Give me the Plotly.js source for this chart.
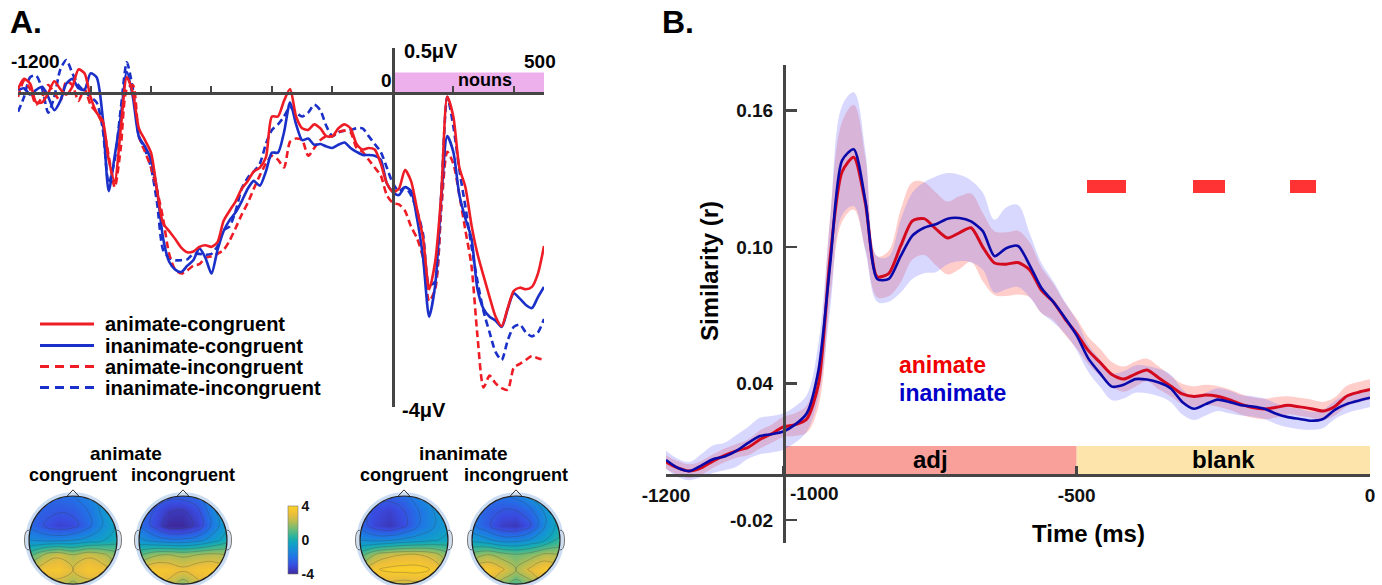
<!DOCTYPE html>
<html><head><meta charset="utf-8">
<script src="https://cdn.plot.ly/plotly-3.0.1.min.js"></script>
<style>html,body{margin:0;padding:0;background:#fff}#chart{width:1382px;height:585px}</style>
</head><body><div id="chart"></div>
<script>
// ---------------- Panel A: ERP waveforms (µV) ----------------
const tA = [-1240,-1220,-1200,-1180,-1160,-1140,-1120,-1100,-1080,-1060,-1040,-1020,-1000,-980,-960,-940,-920,-900,-880,-860,-840,-820,-800,-780,-760,-740,-720,-700,-680,-660,-640,-620,-600,-580,-560,-540,-520,-500,-480,-460,-440,-420,-400,-380,-360,-340,-320,-300,-280,-260,-240,-220,-200,-180,-160,-140,-120,-100,-80,-60,-40,-20,0,20,40,60,80,100,120,140,160,180,200,220,240,260,280,300,320,340,360,380,400,420,440,460,480,500];
const animCong = [0.05,0.18,0.12,-0.12,-0.12,0.0,0.15,0.05,-0.02,0.08,0.3,0.25,-0.05,-0.25,-0.35,-0.85,-1.12,-0.45,0.2,0.0,-0.45,-0.6,-0.76,-1.24,-1.66,-1.76,-1.86,-1.97,-2.03,-2.02,-1.96,-1.94,-1.96,-1.9,-1.63,-1.5,-1.38,-1.22,-1.12,-1.0,-0.95,-0.82,-0.3,-0.3,-0.1,0.05,-0.3,-0.45,-0.47,-0.4,-0.45,-0.55,-0.55,-0.45,-0.4,-0.45,-0.65,-0.72,-0.7,-0.72,-0.9,-1.15,-1.26,-1.22,-0.98,-1.12,-1.48,-1.85,-2.5,-2.15,-1.3,-0.05,-0.3,-0.95,-1.2,-1.68,-2.05,-2.33,-2.6,-2.85,-2.97,-2.74,-2.52,-2.48,-2.5,-2.47,-2.3,-1.95];
const inanimCong = [0.04,0.06,-0.02,0.04,0.08,-0.05,-0.22,-0.1,0.12,0.18,0.06,0.04,0.25,0.2,-0.3,-1.25,-0.8,-0.3,0.27,-0.05,-0.56,-0.68,-0.85,-1.24,-1.85,-2.15,-2.25,-2.28,-2.2,-2.13,-1.98,-2.1,-2.3,-2.0,-1.76,-1.62,-1.52,-1.38,-1.22,-1.12,-1.18,-1.0,-0.76,-0.76,-0.5,-0.12,-0.4,-0.6,-0.58,-0.66,-0.65,-0.68,-0.7,-0.66,-0.63,-0.7,-0.75,-0.79,-0.79,-0.8,-0.85,-1.15,-1.26,-1.3,-1.2,-1.25,-1.6,-2.1,-2.85,-2.45,-1.35,-0.55,-0.75,-1.3,-1.6,-1.85,-2.5,-2.75,-2.85,-2.9,-2.98,-2.75,-2.55,-2.62,-2.7,-2.74,-2.6,-2.47];
const animIncong = [-0.05,0.15,0.05,-0.15,-0.05,0.1,0.0,-0.1,0.15,0.1,-0.1,0.05,-0.15,-0.25,-0.4,-0.8,-1.2,-0.7,0.05,0.1,-0.55,-0.75,-0.95,-1.24,-1.6,-2.05,-2.25,-2.3,-2.26,-2.2,-2.18,-2.1,-2.08,-2.05,-2.0,-1.88,-1.72,-1.55,-1.4,-1.22,-1.05,-0.9,-0.8,-0.85,-0.95,-0.62,-0.58,-0.6,-0.8,-0.7,-0.6,-0.55,-0.55,-0.5,-0.48,-0.5,-0.7,-0.75,-0.85,-0.95,-1.05,-1.3,-1.4,-1.42,-1.5,-1.7,-1.85,-2.1,-2.65,-2.5,-1.5,-0.75,-0.9,-1.3,-1.75,-2.2,-3.1,-3.75,-3.6,-3.7,-3.76,-3.78,-3.5,-3.45,-3.4,-3.35,-3.38,-3.4];
const inanimIncong = [-0.24,-0.05,0.2,0.22,0.05,-0.25,-0.05,0.3,0.42,0.25,0.1,0.02,-0.05,-0.12,-0.45,-1.15,-0.85,-0.2,0.39,0.05,-0.55,-0.72,-0.95,-1.4,-2.0,-2.1,-2.13,-2.13,-2.12,-2.05,-2.05,-2.06,-2.05,-1.95,-1.75,-1.7,-1.5,-1.22,-1.08,-1.0,-0.9,-0.65,-0.47,-0.4,-0.3,-0.18,-0.25,-0.3,-0.25,-0.15,-0.22,-0.42,-0.55,-0.5,-0.48,-0.47,-0.45,-0.45,-0.55,-0.65,-0.75,-0.95,-1.15,-1.25,-1.2,-1.3,-1.5,-1.8,-2.45,-2.4,-1.3,-0.05,-0.42,-0.98,-1.45,-1.95,-2.4,-2.78,-3.05,-3.3,-3.4,-3.15,-2.98,-2.95,-3.05,-3.1,-3.05,-2.88];
const legendA = ['animate-congruent','inanimate-congruent','animate-incongruent','inanimate-incongruent'];

// ---------------- Panel B: similarity (r) ----------------
const tB = [-1200,-1180,-1160,-1140,-1120,-1100,-1080,-1060,-1040,-1020,-1000,-980,-960,-940,-920,-900,-880,-860,-840,-820,-800,-780,-760,-740,-720,-700,-680,-660,-640,-620,-600,-580,-560,-540,-520,-500,-480,-460,-440,-420,-400,-380,-360,-340,-320,-300,-280,-260,-240,-220,-200,-180,-160,-140,-120,-100,-80,-60,-40,-20,0];
const animateSim = [0.0056,0.003,0.0016,0.003,0.006,0.0085,0.0105,0.012,0.0155,0.018,0.021,0.022,0.0245,0.040,0.096,0.133,0.1395,0.119,0.087,0.0885,0.1005,0.1115,0.1125,0.108,0.104,0.1063,0.1085,0.100,0.093,0.0925,0.0932,0.090,0.081,0.076,0.0685,0.062,0.0545,0.0493,0.044,0.042,0.0442,0.046,0.0425,0.039,0.0355,0.0344,0.035,0.0345,0.033,0.031,0.0295,0.0289,0.0296,0.0305,0.0298,0.029,0.028,0.030,0.0345,0.0362,0.0374];
const inanimateSim = [0.0065,0.003,0.0016,0.004,0.0068,0.008,0.0105,0.014,0.017,0.0178,0.019,0.022,0.027,0.046,0.093,0.138,0.143,0.12,0.086,0.086,0.096,0.105,0.1085,0.110,0.1125,0.1128,0.1113,0.107,0.096,0.0995,0.1005,0.092,0.082,0.076,0.069,0.0612,0.051,0.0445,0.0387,0.0395,0.042,0.0418,0.0405,0.038,0.032,0.029,0.031,0.033,0.032,0.0305,0.030,0.029,0.0268,0.0253,0.0245,0.0237,0.0245,0.0285,0.031,0.0325,0.0338];
const animateSem = [0.003,0.003,0.003,0.003,0.003,0.003,0.003,0.0035,0.004,0.004,0.0045,0.005,0.006,0.010,0.018,0.022,0.023,0.020,0.009,0.010,0.016,0.017,0.016,0.016,0.016,0.016,0.015,0.015,0.014,0.014,0.014,0.012,0.010,0.008,0.007,0.0065,0.006,0.006,0.0055,0.0055,0.0055,0.005,0.005,0.0045,0.0045,0.0045,0.0045,0.0045,0.0045,0.0045,0.0045,0.0045,0.0045,0.004,0.004,0.004,0.004,0.004,0.0045,0.0045,0.0045];
const inanimateSem = [0.004,0.004,0.004,0.005,0.006,0.006,0.007,0.007,0.008,0.008,0.008,0.008,0.008,0.012,0.020,0.024,0.025,0.022,0.010,0.010,0.016,0.019,0.020,0.021,0.020,0.019,0.018,0.017,0.016,0.018,0.018,0.014,0.011,0.009,0.007,0.0065,0.006,0.006,0.006,0.006,0.006,0.006,0.006,0.006,0.0055,0.005,0.005,0.005,0.005,0.0045,0.0045,0.0045,0.0045,0.0045,0.0045,0.004,0.004,0.004,0.004,0.004,0.004];
const sigStart = [-483,-302,-136];
const sigEnd = [-416,-247,-92];
const sigLevel = 0.1267;
const epochs = ['adj','blank'];
const epochStart = [-1000,-500];
const epochEnd = [-500,0];

// ---------------- Topographies (µV), rows from back (-1) to front (+1) ----------------
const headGrid = [-1,-0.667,-0.333,0,0.333,0.667,1];
const topoAnimCong = [
 [1.5,2.2,2.4,1.8,2.4,2.3,1.5],
 [2.0,3.3,3.5,2.8,3.5,3.2,2.2],
 [0.8,2.0,2.6,2.0,2.6,2.2,1.5],
 [-1.2,-1.4,-1.4,-1.2,-0.9,-0.5,0.0],
 [-2.2,-2.8,-3.3,-3.1,-2.3,-1.2,-0.3],
 [-2.4,-2.5,-2.7,-2.6,-2.0,-1.0,0.0],
 [-2.3,-2.3,-2.2,-2.0,-1.6,-0.8,0.3]];
const topoAnimIncong = [
 [3.2,3.2,2.5,1.5,2.5,3.2,3.2],
 [2.8,3.5,3.4,3.0,3.4,3.5,3.0],
 [1.0,1.8,2.0,1.8,2.0,2.2,2.0],
 [-1.0,-1.5,-1.8,-1.8,-1.5,-0.8,0.0],
 [-2.0,-3.0,-4.0,-4.0,-3.4,-1.8,-0.5],
 [-2.2,-2.8,-3.5,-3.6,-3.0,-1.5,-0.2],
 [-2.0,-2.3,-2.5,-2.5,-2.2,-1.0,0.2]];
const topoInanimCong = [
 [1.5,2.6,2.6,2.4,2.6,2.4,1.5],
 [2.2,3.5,3.8,3.9,3.9,3.5,2.2],
 [0.8,2.0,2.6,2.8,2.8,2.4,1.5],
 [-1.2,-1.4,-1.3,-1.0,-0.8,-0.5,-0.2],
 [-2.3,-3.2,-3.6,-3.0,-2.0,-1.3,-0.6],
 [-2.5,-3.0,-3.3,-2.8,-2.0,-1.2,-0.5],
 [-2.3,-2.5,-2.5,-2.2,-1.5,-0.8,0.0]];
const topoInanimIncong = [
 [2.2,2.6,1.6,0.8,1.6,2.6,2.2],
 [2.8,3.6,3.0,2.0,3.0,3.6,2.8],
 [1.5,2.0,1.6,1.3,1.6,2.2,2.0],
 [-0.6,-1.0,-1.5,-1.5,-1.1,-0.4,0.5],
 [-1.8,-2.6,-3.4,-3.6,-2.8,-1.2,0.0],
 [-2.0,-2.5,-2.8,-2.8,-2.2,-1.0,0.3],
 [-1.8,-2.0,-2.0,-1.8,-1.0,-0.3,0.8]];
const topoTitlesGroup = ['animate','inanimate'];
const topoTitlesCond = ['congruent','incongruent','congruent','incongruent'];

// ---------------- drawing ----------------
const F = '"Liberation Sans", Arial, Helvetica, sans-serif';
const W = 1382, H = 585;
const px = x => x / W, py = y => 1 - y / H;
const RED_A = '#EE1C25', BLUE_A = '#1A30C8';
const RED_B = '#D40A1E', BLUE_B = '#0A0AAA';
const AX = '#454545';

const data = [];
const shapes = [];
const ann = [];

// Panel A traces
const seriesA = [
  {y: inanimIncong, color: BLUE_A, dash: '7px,4px', name: legendA[3]},
  {y: animIncong, color: RED_A, dash: '7px,4px', name: legendA[2]},
  {y: inanimCong, color: BLUE_A, dash: 'solid', name: legendA[1]},
  {y: animCong, color: RED_A, dash: 'solid', name: legendA[0]}
];
seriesA.forEach(s => data.push({x: tA, y: s.y, name: s.name, xaxis: 'x', yaxis: 'y', mode: 'lines',
  line: {color: s.color, width: 2.6, dash: s.dash, shape: 'spline', smoothing: 0.7}, hoverinfo: 'skip'}));

// Panel B bands and lines
const bands = [
  {m: animateSim, s: animateSem, fill: 'rgba(255,105,95,0.33)'},
  {m: inanimateSim, s: inanimateSem, fill: 'rgba(115,115,255,0.28)'}
];
bands.forEach(b => {
  data.push({x: tB, y: b.m.map((v, i) => v - b.s[i]), xaxis: 'x2', yaxis: 'y2', mode: 'lines',
    line: {width: 0, shape: 'spline'}, hoverinfo: 'skip'});
  data.push({x: tB, y: b.m.map((v, i) => v + b.s[i]), xaxis: 'x2', yaxis: 'y2', mode: 'lines',
    line: {width: 0, shape: 'spline'}, fill: 'tonexty', fillcolor: b.fill, hoverinfo: 'skip'});
});
data.push({x: tB, y: animateSim, xaxis: 'x2', yaxis: 'y2', mode: 'lines', name: 'animate',
  line: {color: RED_B, width: 3, shape: 'spline', smoothing: 0.7}, hoverinfo: 'skip'});
data.push({x: tB, y: inanimateSim, xaxis: 'x2', yaxis: 'y2', mode: 'lines', name: 'inanimate',
  line: {color: BLUE_B, width: 2.6, shape: 'spline', smoothing: 0.7}, hoverinfo: 'skip'});
data.push({type: 'bar', orientation: 'h', base: sigStart, x: sigEnd.map((e, i) => e - sigStart[i]),
  y: sigStart.map(() => sigLevel), width: 0.0058, marker: {color: '#FF3333', line: {width: 0}},
  xaxis: 'x2', yaxis: 'y2', hoverinfo: 'skip'});

// Topographies
const parula = [[0,'#3D2A9C'],[0.12,'#3A4BE0'],[0.25,'#2173E6'],[0.37,'#1592D6'],[0.47,'#10A6C0'],
  [0.55,'#2AB39E'],[0.65,'#66BB7C'],[0.76,'#B1BD55'],[0.88,'#EDBE3A'],[1,'#FCD225']];
const topos = [topoAnimCong, topoAnimIncong, topoInanimCong, topoInanimIncong];
const headCx = [73, 183, 404, 516];
const headR = 44;
const layout = {
  width: W, height: H, margin: {l: 0, r: 0, t: 0, b: 0}, paper_bgcolor: '#fff', plot_bgcolor: 'rgba(0,0,0,0)',
  showlegend: false, font: {family: F, color: '#000'},
  xaxis: {domain: [px(18), px(544)], range: [-1240, 500], anchor: 'free', position: py(93),
    showline: true, linecolor: AX, linewidth: 2.5, ticks: 'inside', ticklen: 6, tickwidth: 2, tickcolor: AX,
    tickvals: [-1000,-800,-600,-400,-200,200,400,499], showticklabels: false, showgrid: false, zeroline: false},
  yaxis: {domain: [py(407), py(48)], range: [-4, 0.573], anchor: 'free', position: px(393),
    showline: true, linecolor: AX, linewidth: 2.5, ticks: 'inside', ticklen: 6, tickwidth: 2, tickcolor: AX,
    tickvals: [-3.995, 0.568], showticklabels: false, showgrid: false, zeroline: false},
  xaxis2: {domain: [px(666), px(1370)], range: [-1200, 0], anchor: 'free', position: py(474.7),
    showline: true, linecolor: AX, linewidth: 3, ticks: 'inside', ticklen: 8, tickwidth: 2.5, tickcolor: AX,
    tickvals: [-1200,-1000,-500,0], ticktext: ['-1200','','-500','0'], ticklabelstandoff: 2,
    tickfont: {family: F, size: 19, color: '#111', weight: 'bold'}, showgrid: false, zeroline: false},
  yaxis2: {domain: [py(543), py(65)], range: [-0.03, 0.18], anchor: 'free', position: px(784), type: 'linear',
    showline: true, linecolor: AX, linewidth: 3, ticks: 'inside', ticklen: 11, tickwidth: 2.5, tickcolor: AX,
    tickvals: [-0.02, 0.04, 0.10, 0.16, 0.1798], ticktext: ['-0.02','0.04','0.10','0.16',''], ticklabelstandoff: 6,
    tickfont: {family: F, size: 19, color: '#111', weight: 'bold'}, showgrid: false, zeroline: false},
  coloraxis: {cmin: -4, cmax: 4, colorscale: parula,
    colorbar: {x: px(288), xanchor: 'left', y: py(574), yanchor: 'bottom', len: 68, lenmode: 'pixels',
      thickness: 10, thicknessmode: 'pixels', xpad: 0, ypad: 0, outlinewidth: 0.6, outlinecolor: '#777',
      tickvals: [-4, 0, 4], ticktext: ['-4','0','4'], ticks: '', ticklabelstandoff: 2,
      tickfont: {family: F, size: 14, color: '#111', weight: 'bold'}}},
  bargap: 0
};

const k = 0.5523;
const circlePath = r => `M ${r} 0 C ${r} ${-k*r} ${k*r} ${-r} 0 ${-r} C ${-k*r} ${-r} ${-r} ${-k*r} ${-r} 0 C ${-r} ${k*r} ${-k*r} ${r} 0 ${r} C ${k*r} ${r} ${r} ${k*r} ${r} 0 Z`;
const txt = (x, y, t, size, anchor, extra) => Object.assign({xref: 'paper', yref: 'paper', x: px(x), y: py(y), text: t,
  showarrow: false, xanchor: anchor || 'center', yanchor: 'middle', font: {family: F, size: size, color: '#000', weight: 'bold'}}, extra || {});

topos.forEach((z, i) => {
  const n = i + 3, xa = 'x' + n, ya = 'y' + n;
  layout['xaxis' + n] = {domain: [px(headCx[i] - 1.25 * headR), px(headCx[i] + 1.25 * headR)], range: [-1.25, 1.25],
    visible: false, anchor: ya, fixedrange: true};
  layout['yaxis' + n] = {domain: [0, py(485)], range: [-1.02, 1.25], visible: false, anchor: xa, fixedrange: true};
  data.push({type: 'heatmap', z: z, x: headGrid, y: headGrid, zsmooth: 'best', coloraxis: 'coloraxis',
    xaxis: xa, yaxis: ya, hoverinfo: 'skip'});
  data.push({type: 'contour', z: z, x: headGrid, y: headGrid, xaxis: xa, yaxis: ya, showscale: false,
    contours: {coloring: 'none', start: -3.6, end: 3.6, size: 0.8}, autocontour: false,
    line: {color: 'rgba(55,55,55,0.45)', width: 0.6, smoothing: 1.3}, hoverinfo: 'skip'});
  // white mask outside the scalp
  shapes.push({type: 'path', xref: xa, yref: ya,
    path: 'M -1.25 -1.02 L 1.25 -1.02 L 1.25 1.25 L -1.25 1.25 Z ' + circlePath(1.0),
    fillcolor: '#fff', line: {width: 0}, layer: 'above'});
  shapes.push({type: 'circle', xref: xa, yref: ya, x0: -1.045, x1: 1.045, y0: -1.045, y1: 1.045,
    line: {color: 'rgba(190,212,240,0.8)', width: 3.5}});
  shapes.push({type: 'circle', xref: xa, yref: ya, x0: -1, x1: 1, y0: -1, y1: 1, line: {color: '#222', width: 1.2}});
  shapes.push({type: 'path', xref: xa, yref: ya, path: 'M -0.14 0.99 L 0 1.14 L 0.14 0.99',
    line: {color: '#333', width: 1}});
  shapes.push({type: 'path', xref: xa, yref: ya,
    path: 'M -0.99 0.22 C -1.08 0.24 -1.1 0.12 -1.1 0 C -1.1 -0.12 -1.08 -0.24 -0.99 -0.22', line: {color: '#666', width: 1}});
  shapes.push({type: 'path', xref: xa, yref: ya,
    path: 'M 0.99 0.22 C 1.08 0.24 1.1 0.12 1.1 0 C 1.1 -0.12 1.08 -0.24 0.99 -0.22', line: {color: '#666', width: 1}});
  ann.push(txt(headCx[i], 475, topoTitlesCond[i], 18));
});
ann.push(txt(126, 453, topoTitlesGroup[0], 19));
ann.push(txt(463, 453, topoTitlesGroup[1], 19));

// Panel A decorations
shapes.push({type: 'rect', xref: 'x', yref: 'y', x0: 0, x1: 500, y0: 0, y1: 0.26, fillcolor: '#EDB0ED',
  line: {width: 0}, layer: 'below'});
ann.push(txt(8, 22, 'A.', 32, 'left'));
ann.push(txt(35, 62, '-1200', 19));
ann.push(txt(386, 81, '0', 19));
ann.push(txt(402, 51, '0.5μV', 20, 'left'));
ann.push(txt(540, 62, '500', 19));
ann.push(txt(400, 410, '-4μV', 20, 'left'));
ann.push(txt(485, 80, 'nouns', 18));
const legRows = [324, 345.5, 366.5, 387.5];
const legStyle = [[RED_A, 'solid'], [BLUE_A, 'solid'], [RED_A, 'dash'], [BLUE_A, 'dash']];
legendA.forEach((name, i) => {
  shapes.push({type: 'line', xref: 'paper', yref: 'paper', x0: px(40), x1: px(94), y0: py(legRows[i]), y1: py(legRows[i]),
    line: {color: legStyle[i][0], width: 3.2, dash: legStyle[i][1] === 'dash' ? '9px,6px' : 'solid'}});
  ann.push(txt(103, legRows[i], name, 20, 'left'));
});

// Panel B decorations
const epochColors = ['rgb(250,160,155)', 'rgb(253,228,170)'];
epochs.forEach((e, i) => {
  shapes.push({type: 'rect', xref: 'x2', yref: 'y2', x0: epochStart[i], x1: epochEnd[i], y0: 0, y1: 0.0126,
    fillcolor: epochColors[i], line: {width: 0}, layer: 'below'});
  ann.push({xref: 'x2', yref: 'y2', x: (epochStart[i] + epochEnd[i]) / 2, y: 0.0066, text: e, showarrow: false,
    yanchor: 'middle', font: {family: F, size: 24, color: '#000', weight: 'bold'}});
});
ann.push(txt(660, 22, 'B.', 32, 'left'));
ann.push({xref: 'x2', yref: 'paper', x: -1000, xshift: 31, y: py(493), yanchor: 'middle', text: '-1000', showarrow: false,
  font: {family: F, size: 19, color: '#111', weight: 'bold'}});
ann.push(txt(709, 271, 'Similarity (r)', 24, 'center', {textangle: -90}));
ann.push(txt(1088, 533, 'Time (ms)', 24));
ann.push(txt(897, 365, 'animate', 23, 'left', {font: {family: F, size: 23, color: '#F00000', weight: 'bold'}}));
ann.push(txt(897, 393, 'inanimate', 23, 'left', {font: {family: F, size: 23, color: '#0000C8', weight: 'bold'}}));

layout.shapes = shapes;
layout.annotations = ann;
Plotly.newPlot('chart', data, layout, {displayModeBar: false, staticPlot: true});
</script></body></html>
